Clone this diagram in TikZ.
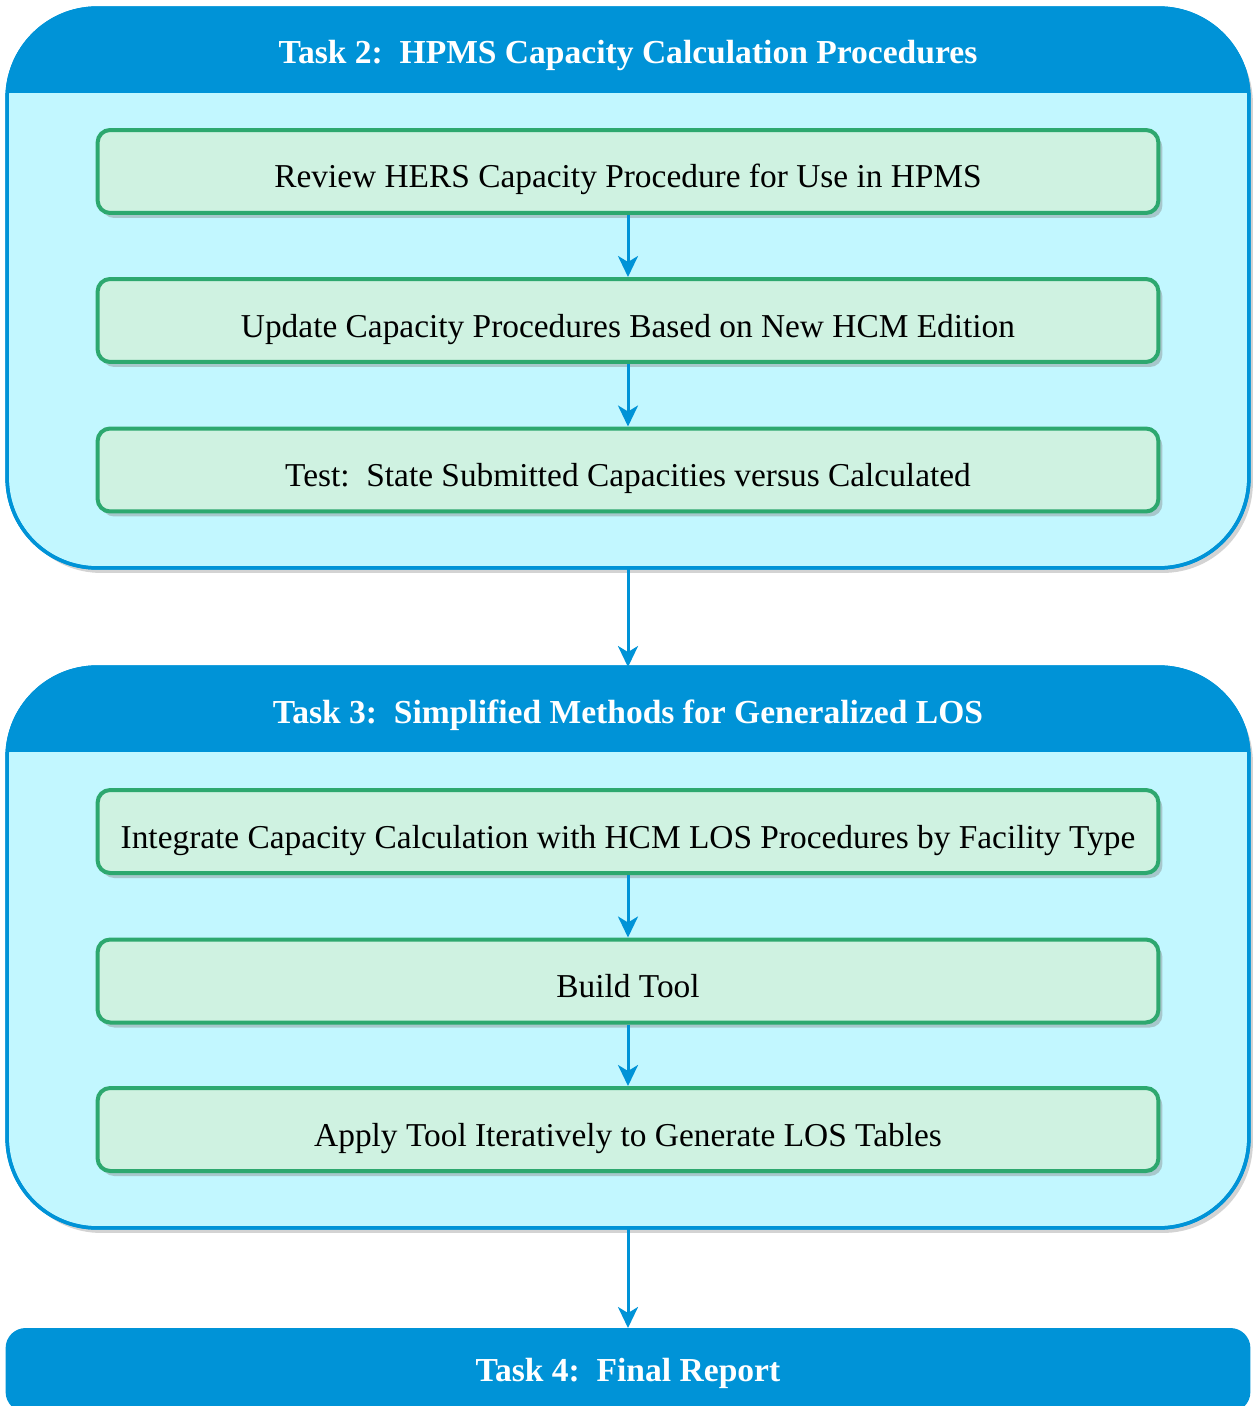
\documentclass[tikz,border=0pt]{standalone}
\usepackage{fontspec}
\setmainfont{Liberation Serif}
\usepackage{xcolor}
\usepackage{tikz}
\usetikzlibrary{arrows.meta, shadows}
\definecolor{hdrblue}{RGB}{0,147,215}
\definecolor{panelcyan}{RGB}{194,247,255}
\definecolor{stepfill}{RGB}{207,242,225}
\definecolor{stepline}{RGB}{45,168,111}
\tikzset{
  panel/.style={draw=hdrblue, line width=0.07cm, fill=panelcyan, rounded corners=1.8cm, outer sep=0pt,
    minimum width=24.84cm, minimum height=11.2cm,
    drop shadow={shadow xshift=0.08cm, shadow yshift=-0.1cm, opacity=0.35}},
  stepbox/.style={draw=stepline, line width=0.08cm, fill=stepfill, rounded corners=0.25cm,
    minimum width=21.22cm, minimum height=1.66cm, font=\fontsize{19}{22}\selectfont,
    text height=0.72cm, text depth=0.06cm,
    drop shadow={shadow xshift=0.08cm, shadow yshift=-0.1cm, opacity=0.4}},
  hdrtext/.style={text=white, font=\fontsize{19.1}{22}\selectfont\bfseries},
  flow/.style={draw=hdrblue, line width=0.06cm, -{Stealth[length=0.42cm, width=0.4cm, inset=0.12cm]}}
}
\begin{document}
\begin{tikzpicture}
\begin{scope}[x=0.02cm, y=-0.02cm]
\useasboundingbox (0,0) rectangle (1252,1406);
\node[panel] (task2) at (628,288) {};
\begin{scope}
\clip[rounded corners=1.8cm] (task2.south west) rectangle (task2.north east);
\fill[hdrblue] (task2.north west) rectangle ([yshift=-1.7cm]task2.north east);
\end{scope}
\draw[hdrblue, line width=0.07cm, rounded corners=1.8cm] (task2.south west) rectangle (task2.north east);
\node[hdrtext] (task2hdr) at (628,55) {Task 2:\ \ HPMS Capacity Calculation Procedures};
\node[stepbox] (review) at (628,171.5) {Review HERS Capacity Procedure for Use in HPMS};
\node[stepbox] (update) at (628,320.5) {Update Capacity Procedures Based on New HCM Edition};
\node[stepbox] (test) at (628,470) {Test:\ \ State Submitted Capacities versus Calculated};
\draw[flow] (review) -- (update);
\draw[flow] (update) -- (test);

\node[panel, minimum height=11.22cm] (task3) at (628,947.5) {};
\begin{scope}
\clip[rounded corners=1.8cm] (task3.south west) rectangle (task3.north east);
\fill[hdrblue] (task3.north west) rectangle ([yshift=-1.7cm]task3.north east);
\end{scope}
\draw[hdrblue, line width=0.07cm, rounded corners=1.8cm] (task3.south west) rectangle (task3.north east);
\node[hdrtext] (task3hdr) at (628,715) {Task 3:\ \ Simplified Methods for Generalized LOS};
\node[stepbox] (integrate) at (628,831.5) {Integrate Capacity Calculation with HCM LOS Procedures by Facility Type};
\node[stepbox] (build) at (628,981) {Build Tool};
\node[stepbox] (apply) at (628,1129.5) {Apply Tool Iteratively to Generate LOS Tables};
\draw[flow] (integrate) -- (build);
\draw[flow] (build) -- (apply);

\node[fill=hdrblue, rounded corners=0.4cm, minimum width=24.9cm, minimum height=1.68cm, outer sep=0pt] (task4) at (628,1370) {};
\node[hdrtext] (task4hdr) at (628,1373) {Task 4:\ \ Final Report};

\draw[flow] (task2.south) -- (task3.north);
\draw[flow] (task3.south) -- (task4.north);
\end{scope}
\end{tikzpicture}
\end{document}
